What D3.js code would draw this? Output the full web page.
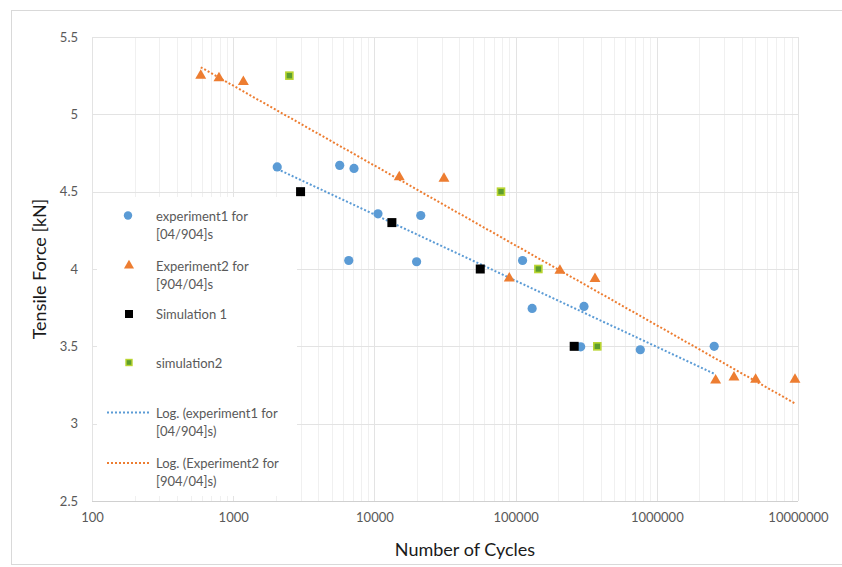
<!DOCTYPE html>
<html>
<head>
<meta charset="utf-8">
<script src="https://cdn.jsdelivr.net/npm/d3@7"></script>
<style>
  html, body { margin: 0; padding: 0; background: #fff; }
  svg { display: block; font-family: Lato, "Open Sans", "Liberation Sans", sans-serif; }
</style>
</head>
<body>
<svg id="chart" width="842" height="567"></svg>
<script>
// Fatigue data: number of cycles vs tensile force [kN]
const exp1Cycles = [2050, 5680, 7170, 6580, 10600, 21300, 19900, 112000, 131000, 305000, 289000, 764000, 2550000];
const exp1Force  = [4.66, 4.67, 4.65, 4.055, 4.357, 4.346, 4.047, 4.055, 3.745, 3.758, 3.497, 3.478, 3.50];

const exp2Cycles = [589, 793, 1180, 15000, 31100, 90200, 206000, 365000, 2610000, 3520000, 5010000, 9520000];
const exp2Force  = [5.25, 5.235, 5.21, 4.595, 4.585, 3.94, 3.99, 3.937, 3.28, 3.30, 3.285, 3.285];

const sim1Cycles = [3000, 13300, 56200, 260000];
const sim1Force  = [4.5, 4.3, 4.0, 3.5];

const sim2Cycles = [2500, 78800, 145000, 379000];
const sim2Force  = [5.25, 4.5, 4.0, 3.5];

const xTickValues = [100, 1000, 10000, 100000, 1000000, 10000000];
const yTickValues = [2.5, 3, 3.5, 4, 4.5, 5, 5.5];

const legendLabels = [
  ["experiment1 for", "[04/904]s"],
  ["Experiment2 for", "[904/04]s"],
  ["Simulation 1"],
  ["simulation2"],
  ["Log. (experiment1 for", "[04/904]s)"],
  ["Log. (Experiment2 for", "[904/04]s)"]
];

const BLUE = "#5B9BD5", ORANGE = "#ED7D31", GRID = "#e3e3e3", TEXT = "#595959";

const svg = d3.select("#chart");
const plot = { left: 92, right: 798, top: 37, bottom: 501 };

const x = d3.scaleLog().domain([100, 10000000]).range([plot.left, plot.right]);
const y = d3.scaleLinear().domain([2.5, 5.5]).range([plot.bottom, plot.top]);

// chart frame
svg.append("rect")
  .attr("x", 11.5).attr("y", 10.5).attr("width", 840).attr("height", 554)
  .attr("fill", "none").attr("stroke", "#d9d9d9").attr("stroke-width", 1);

// minor vertical gridlines (2..9 within each decade)
const minorTicks = [];
for (let d = 100; d < 10000000; d *= 10) {
  for (let k = 2; k <= 9; k++) minorTicks.push(d * k);
}
svg.append("g").selectAll("line").data(minorTicks).join("line")
  .attr("x1", d => Math.round(x(d)) + 0.5).attr("x2", d => Math.round(x(d)) + 0.5)
  .attr("y1", plot.top).attr("y2", plot.bottom)
  .attr("stroke", "#f0f0f0").attr("stroke-width", 1);

// major vertical gridlines
svg.append("g").selectAll("line").data(xTickValues).join("line")
  .attr("x1", d => Math.round(x(d)) + 0.5).attr("x2", d => Math.round(x(d)) + 0.5)
  .attr("y1", plot.top).attr("y2", plot.bottom)
  .attr("stroke", GRID).attr("stroke-width", 1);

// horizontal gridlines
svg.append("g").selectAll("line").data(yTickValues).join("line")
  .attr("x1", plot.left).attr("x2", plot.right)
  .attr("y1", d => Math.round(y(d)) + 0.5).attr("y2", d => Math.round(y(d)) + 0.5)
  .attr("stroke", d => d === 2.5 ? "#d0d0d0" : GRID).attr("stroke-width", 1);

// axes tick labels
const xAxis = d3.axisBottom(x).tickValues(xTickValues).tickFormat(d3.format("d")).tickSize(0).tickPadding(12);
const gx = svg.append("g").attr("transform", `translate(0,${plot.bottom})`).call(xAxis);
gx.select(".domain").remove();
gx.selectAll("text").attr("fill", TEXT).attr("font-size", 13).attr("font-family", "Lato, sans-serif");

const yAxis = d3.axisLeft(y).tickValues(yTickValues).tickFormat(d => String(d)).tickSize(0).tickPadding(14);
const gy = svg.append("g").attr("transform", `translate(${plot.left},0)`).call(yAxis);
gy.select(".domain").remove();
gy.selectAll("text").attr("fill", TEXT).attr("font-size", 13).attr("font-family", "Lato, sans-serif");

// axis titles
svg.append("text")
  .attr("x", 465).attr("y", 556).attr("text-anchor", "middle")
  .attr("font-size", 18).attr("fill", "#1a1a1a").text("Number of Cycles");
svg.append("text")
  .attr("transform", `translate(46,${(plot.top + plot.bottom) / 2}) rotate(-90)`)
  .attr("text-anchor", "middle")
  .attr("font-size", 18).attr("fill", "#1a1a1a").text("Tensile Force [kN]");

// logarithmic trendline y = a*ln(x) + b fitted by least squares
function logFit(xs, ys) {
  const lx = xs.map(v => Math.log(v));
  const mx = d3.mean(lx), my = d3.mean(ys);
  let sxy = 0, sxx = 0;
  lx.forEach((v, i) => { sxy += (v - mx) * (ys[i] - my); sxx += (v - mx) * (v - mx); });
  const a = sxy / sxx, b = my - a * mx;
  const x0 = d3.min(xs), x1 = d3.max(xs);
  return [[x0, a * Math.log(x0) + b], [x1, a * Math.log(x1) + b]];
}
const line = d3.line().x(d => x(d[0])).y(d => y(d[1]));

// legend background
const legend = svg.append("g");
legend.append("rect").attr("x", 97).attr("y", 197).attr("width", 200).attr("height", 299).attr("fill", "#fff");

// markers
const sym = (type, size) => d3.symbol().type(type).size(size);
const zip = (a, b) => a.map((v, i) => [v, b[i]]);

svg.append("path").attr("d", line(logFit(exp1Cycles, exp1Force)))
  .attr("fill", "none").attr("stroke", BLUE).attr("stroke-width", 2).attr("stroke-dasharray", "2 2");
svg.append("path").attr("d", line(logFit(exp2Cycles, exp2Force)))
  .attr("fill", "none").attr("stroke", ORANGE).attr("stroke-width", 2).attr("stroke-dasharray", "2 2");

svg.append("g").selectAll("circle").data(zip(exp1Cycles, exp1Force)).join("circle")
  .attr("cx", d => x(d[0])).attr("cy", d => y(d[1])).attr("r", 4.6).attr("fill", BLUE);

svg.append("g").selectAll("path").data(zip(exp2Cycles, exp2Force)).join("path")
  .attr("transform", d => `translate(${x(d[0])},${y(d[1])})`)
  .attr("d", sym(d3.symbolTriangle, 52)).attr("fill", ORANGE);

svg.append("g").selectAll("rect").data(zip(sim1Cycles, sim1Force)).join("rect")
  .attr("x", d => x(d[0]) - 4.5).attr("y", d => y(d[1]) - 4.5)
  .attr("width", 9).attr("height", 9).attr("fill", "#000");

svg.append("g").selectAll("rect").data(zip(sim2Cycles, sim2Force)).join("rect")
  .attr("x", d => x(d[0]) - 3.5).attr("y", d => y(d[1]) - 3.5)
  .attr("width", 7).attr("height", 7).attr("fill", "#5E9E2E")
  .attr("stroke", "#B9D531").attr("stroke-width", 1.6);

// legend entries
const lx = 129, tx = 156;
const rowsY = [215.5, 265.5, 314, 362.5, 412.5, 463];
legend.append("circle").attr("cx", lx - 1).attr("cy", rowsY[0]).attr("r", 4.2).attr("fill", BLUE);
legend.append("path").attr("transform", `translate(${lx},${rowsY[1]})`).attr("d", sym(d3.symbolTriangle, 44)).attr("fill", ORANGE);
legend.append("rect").attr("x", lx - 4).attr("y", rowsY[2] - 4).attr("width", 8).attr("height", 8).attr("fill", "#000");
legend.append("rect").attr("x", lx - 3).attr("y", rowsY[3] - 3).attr("width", 6).attr("height", 6)
  .attr("fill", "#5E9E2E").attr("stroke", "#B9D531").attr("stroke-width", 1.4);
legend.append("line").attr("x1", 107).attr("x2", 149).attr("y1", rowsY[4]).attr("y2", rowsY[4])
  .attr("stroke", BLUE).attr("stroke-width", 2).attr("stroke-dasharray", "2 2");
legend.append("line").attr("x1", 107).attr("x2", 149).attr("y1", rowsY[5]).attr("y2", rowsY[5])
  .attr("stroke", ORANGE).attr("stroke-width", 2).attr("stroke-dasharray", "2 2");

legendLabels.forEach((lines, i) => {
  const t = legend.append("text").attr("x", tx).attr("y", rowsY[i])
    .attr("font-size", 13).attr("fill", TEXT).attr("dominant-baseline", "central");
  lines.forEach((s, j) => t.append("tspan").attr("x", tx).attr("dy", j === 0 ? 0 : 18).text(s));
});
</script>
</body>
</html>
